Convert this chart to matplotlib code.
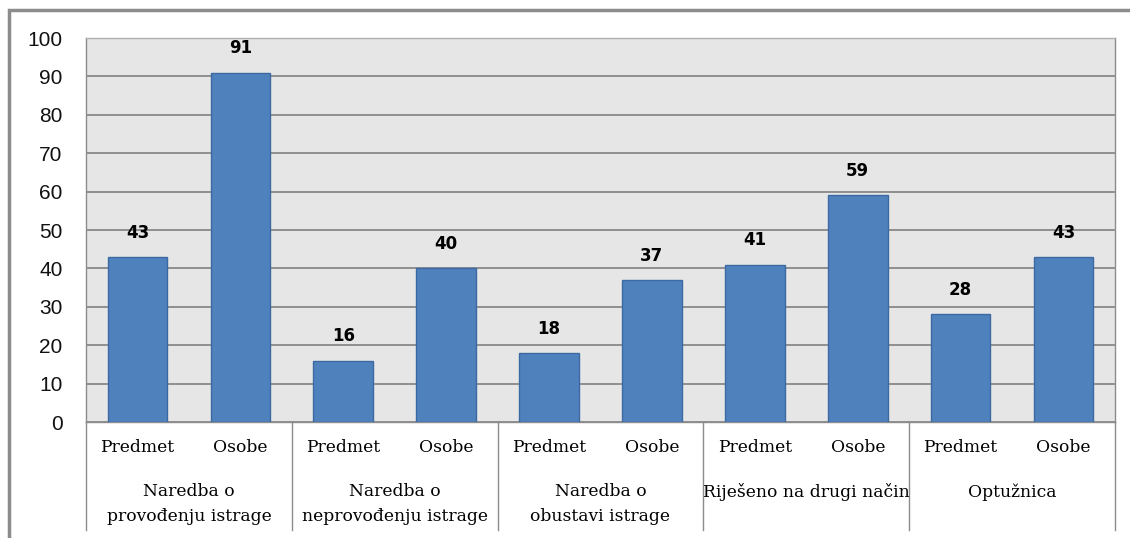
import numpy as np
import matplotlib.pyplot as plt
from matplotlib.patches import Rectangle

# ---------- data ----------
groups = ["Naredba o\nprovođenju istrage", "Naredba o\nneprovođenju istrage",
          "Naredba o\nobustavi istrage", "Riješeno na drugi način", "Optužnica"]
sub_labels = ["Predmet", "Osobe"]
predmet = [43, 16, 18, 41, 28]
osobe = [91, 40, 37, 59, 43]

W, H = 1130, 538
fig = plt.figure(figsize=(W / 100, H / 100), dpi=100)

# outer chart frame (runs off the right/bottom edge)
fig.patches.append(Rectangle((9 / W, -0.05), 1.1, 1 - 10 / H + 0.05,
                             transform=fig.transFigure, fill=False,
                             edgecolor="#8c8c8c", linewidth=2.5))

ax = fig.add_axes([86 / W, 1 - 422 / H, (1115 - 86) / W, (422 - 38) / H])
ax.set_facecolor("#e6e6e6")

vals = []
for p, o in zip(predmet, osobe):
    vals += [p, o]
x = np.arange(len(vals))
bars = ax.bar(x, vals, width=0.58, color="#4f81bd", edgecolor="#3b6aa3",
              linewidth=1, zorder=3)
for b, v in zip(bars, vals):
    ax.text(b.get_x() + b.get_width() / 2, v + 4.0, str(v), ha="center",
            va="bottom", fontsize=12, fontweight="bold", family="DejaVu Sans")

ax.set_xlim(-0.5, len(vals) - 0.5)
ax.set_ylim(0, 100)
ax.set_yticks(range(0, 101, 10))
ax.yaxis.grid(True, color="#888888", linewidth=1.3, zorder=1)
ax.set_axisbelow(True)
ax.tick_params(axis="y", length=0, pad=17, labelsize=15, labelcolor="#111111")
ax.tick_params(axis="x", length=0, labelbottom=False)
for lbl in ax.get_yticklabels():
    lbl.set_family("Liberation Sans")

for s in ["left", "bottom", "right"]:
    ax.spines[s].set_color("#8c8c8c")
    ax.spines[s].set_linewidth(1)
ax.spines["top"].set_color("#b0b0b0")
ax.spines["top"].set_linewidth(1)

# two level category axis
trans = ax.get_xaxis_transform()
for i in range(len(vals)):
    ax.text(i, -0.066, sub_labels[i % 2], transform=trans, ha="center",
            va="center", fontsize=12.3, family="DejaVu Serif")
for g, name in enumerate(groups):
    ax.text(2 * g + 0.5, -0.16, name, transform=trans, ha="center",
            va="top", fontsize=12.3, family="DejaVu Serif", linespacing=1.55)
for k in range(len(groups) + 1):
    ax.plot([k * 2 - 0.5] * 2, [0, -0.281], transform=trans, color="#8c8c8c",
            linewidth=1, clip_on=False)

fig.savefig("out.png", dpi=100)
